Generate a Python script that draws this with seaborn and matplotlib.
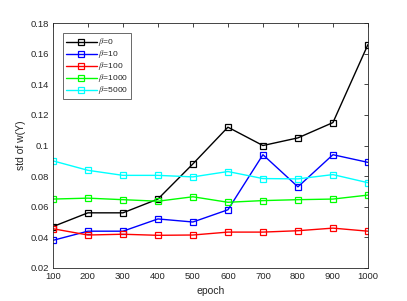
import matplotlib
matplotlib.use("Agg")
import matplotlib.pyplot as plt
import seaborn as sns
import pandas as pd

epochs = [100, 200, 300, 400, 500, 600, 700, 800, 900, 1000]
beta_labels = [r"$\beta$=0", r"$\beta$=10", r"$\beta$=100", r"$\beta$=1000", r"$\beta$=5000"]
std_b0 = [0.047, 0.056, 0.056, 0.065, 0.088, 0.112, 0.100, 0.105, 0.115, 0.166]
std_b10 = [0.038, 0.044, 0.044, 0.052, 0.050, 0.058, 0.094, 0.073, 0.094, 0.089]
std_b100 = [0.0456, 0.0415, 0.042, 0.0413, 0.0415, 0.0434, 0.0434, 0.0443, 0.046, 0.044]
std_b1000 = [0.065, 0.0656, 0.0646, 0.0636, 0.0665, 0.0629, 0.064, 0.0646, 0.065, 0.0676]
std_b5000 = [0.090, 0.0838, 0.0805, 0.0805, 0.0795, 0.083, 0.0784, 0.0782, 0.081, 0.0757]
colors = ["#000000", "#0000ff", "#ff0000", "#00ff00", "#00ffff"]

series = [std_b0, std_b10, std_b100, std_b1000, std_b5000]
rows = []
for lab, vals in zip(beta_labels, series):
    for e, v in zip(epochs, vals):
        rows.append({"epoch": e, "std": v, "beta": lab})
df = pd.DataFrame(rows)

sns.set_style("white")
plt.rcParams["font.family"] = ["Liberation Sans", "DejaVu Sans"]
plt.rcParams["mathtext.fontset"] = "stix"
fig = plt.figure(figsize=(4.07, 3.01), dpi=100)
ax = fig.add_axes([0.13, 0.110, 0.774, 0.813])

sns.lineplot(data=df, x="epoch", y="std", hue="beta", hue_order=beta_labels,
             palette=colors, marker="s", markersize=4, markerfacecolor="none",
             linewidth=1.0, legend=False, ax=ax)

for line, lab, c in zip(ax.get_lines(), beta_labels, colors):
    line.set_markeredgecolor(c)
    line.set_markerfacecolor("none")
    line.set_markeredgewidth(0.9)
    line.set_label(lab)

ax.set_xlim(100, 1000)
ax.set_ylim(0.02, 0.18)
ax.set_xticks(epochs)
ax.set_xticklabels([str(e) for e in epochs])
yt = [0.02, 0.04, 0.06, 0.08, 0.1, 0.12, 0.14, 0.16, 0.18]
ax.set_yticks(yt)
ax.set_yticklabels(["0.02", "0.04", "0.06", "0.08", "0.1", "0.12", "0.14", "0.16", "0.18"])
ax.tick_params(direction="in", top=True, right=True, length=3, width=0.6,
               labelsize=6.8, colors="#262626", pad=3)
for s in ax.spines.values():
    s.set_color("#262626")
    s.set_linewidth(0.6)
ax.set_xlabel("epoch", fontsize=7.5, color="#262626", labelpad=3.5)
ax.set_ylabel("std of w(Y)", fontsize=7.5, color="#262626", labelpad=3)

leg = ax.legend(loc="upper left", fontsize=6.1, frameon=True, fancybox=False,
                handlelength=3.6, handleheight=0.5, borderpad=0.35, labelspacing=0.0,
                handletextpad=0.2, borderaxespad=1.2)
leg.get_frame().set_edgecolor("#262626")
leg.get_frame().set_linewidth(0.6)

fig.savefig("out.png", dpi=100)
